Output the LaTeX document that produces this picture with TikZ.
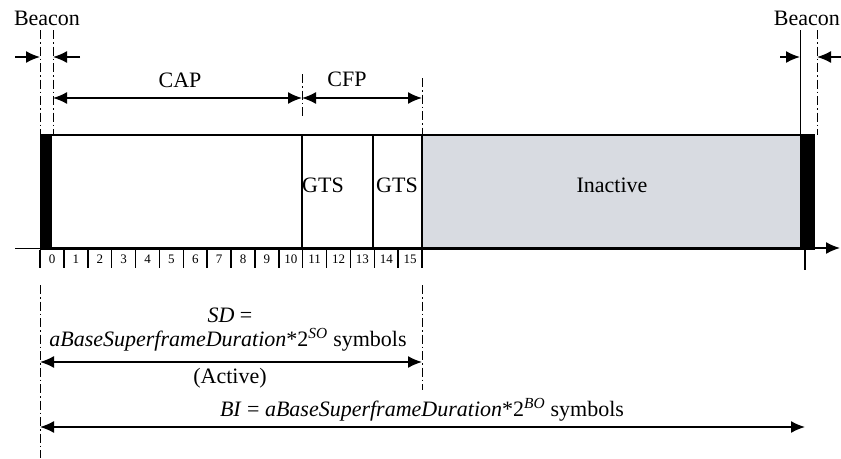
\documentclass[tikz,border=0pt]{standalone}
\usepackage{fontspec}
\setmainfont{Liberation Serif}
\usetikzlibrary{arrows.meta, positioning}

\definecolor{inactgray}{RGB}{216,219,225}

\tikzset{
	dim/.style={line width=1.6pt, {Latex[length=14pt,width=12pt]}-{Latex[length=14pt,width=12pt]}},
	tip/.style={line width=1.6pt, -{Latex[length=14pt,width=12pt]}},
	guide/.style={line width=0.8pt, dash pattern=on 9pt off 3pt on 1.5pt off 3pt},
	lbl/.style={font=\fontsize{22}{26}\selectfont, inner sep=0pt},
	slotnum/.style={font=\fontsize{13}{15}\selectfont, inner sep=0pt},
}

\begin{document}
\begin{tikzpicture}[x=1pt,y=-1pt]
		\useasboundingbox (0,0) rectangle (841,458);

		% guide lines
		\coordinate (g0) at (40,30);
		\coordinate (g1) at (53,30);
		\coordinate (gc) at (302,74);
		\coordinate (ge) at (422,78);
		\coordinate (g2) at (800,30);
		\coordinate (g3) at (817,30);
		\coordinate (s0) at (40,285);
		\coordinate (se) at (422,285);

		\draw[guide] (g0) -- (40,135);
		\draw[guide] (g1) -- (53,135);
		\draw[guide] (gc) -- (302,118);
		\draw[guide] (ge) -- (422,135);
		\draw[line width=0.8pt] (g2) -- (800,135);
		\draw[guide] (g3) -- (817,135);
		\draw[guide] (s0) -- (40,458);
		\draw[guide] (se) -- (422,390);

		% superframe
		\fill[inactgray] (422,135) rectangle (800,248);
		\fill[black] (40,135) rectangle (52,248);
		\fill[black] (800,135) rectangle (815,248);
		\draw[line width=2pt] (40,135) -- (815,135);
		\draw[line width=3pt] (40,248) -- (815,248);
		\foreach \x in {302,373,422}
			\draw[line width=1.8pt] (\x,135) -- (\x,248);
		\draw[line width=1pt] (15,248) -- (40,248);
		\draw[tip] (815,248) -- (840,248);
		\draw[line width=1.2pt] (805,250) -- (805,270);

		% slots
		\foreach \i in {0,...,15} {
			\draw[line width=1.5pt] (40+\i*23.875,250) -- (40+\i*23.875,268);
			\node[slotnum] at (40+\i*23.875+12,259) {\i};
		}
		\draw[line width=1.5pt] (422,250) -- (422,268);

		% labels
		\node[lbl] (beaconL) at (47,18) {Beacon};
		\node[lbl, anchor=east] (beaconR) at (840,18) {Beacon};
		\node[lbl] (cap) at (180,80) {CAP};
		\node[lbl] (cfp) at (347,79) {CFP};
		\node[lbl] (gts1) at (323,185) {GTS};
		\node[lbl] (gts2) at (397,185) {GTS};
		\node[lbl] (inact) at (612,185) {Inactive};
		\node[lbl] (sd) at (230,315) {\textit{SD} =};
		\node[lbl] (sdf) at (228,340) {\textit{aBaseSuperframeDuration}*2\textsuperscript{\textit{SO}} symbols};
		\node[lbl] (act) at (230,378) {(Active)};
		\node[lbl] (bi) at (422,410) {\textit{BI} = \textit{aBaseSuperframeDuration}*2\textsuperscript{\textit{BO}} symbols};

		% dimensions
		\draw[tip] (15,57) -- (g0 |- 0,57);
		\draw[tip] (80,57) -- (g1 |- 0,57);
		\draw[tip] (780,57) -- (g2 |- 0,57);
		\draw[tip] (841,57) -- (g3 |- 0,57);
		\draw[dim] (g1 |- 0,98) -- (gc |- 0,98);
		\draw[dim] (gc |- 0,98) -- (ge |- 0,98);
		\draw[dim] (s0 |- 0,362) -- (se |- 0,362);
		\draw[dim] (s0 |- 0,427) -- (805,427);
	\end{tikzpicture}
\end{document}
```
